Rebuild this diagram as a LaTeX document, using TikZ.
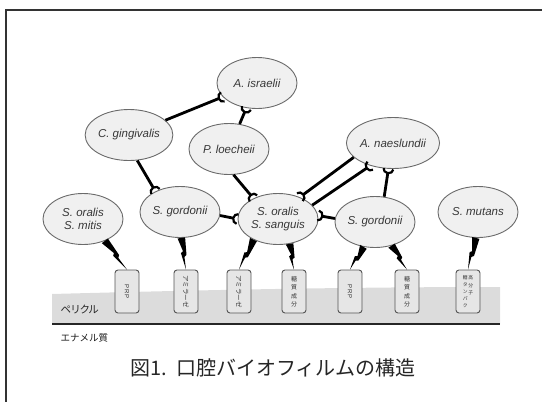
\documentclass[tikz,border=0pt]{standalone}
\usepackage{fontspec}
\usepackage{graphicx}
\setmainfont{Liberation Sans}
\newfontfamily\jp{Noto Sans CJK JP}
\newfontfamily\jpp[RawFeature=+palt]{Noto Sans CJK JP}
\usetikzlibrary{arrows.meta,calc,shapes.geometric}

\definecolor{cellfill}{HTML}{F0F0F0}
\definecolor{cellline}{HTML}{6A6A6A}
\definecolor{celltext}{HTML}{383838}
\definecolor{boxfill}{HTML}{E6E6E6}
\definecolor{boxline}{HTML}{555555}
\definecolor{boxtext}{HTML}{333333}
\definecolor{pellicle}{HTML}{DCDCDC}
\definecolor{framecol}{HTML}{333333}

% lightning-shaped adhesion from a cell to its receptor
\newcommand{\adhere}[2]{%
  \coordinate (bs) at (#1);
  \coordinate (be) at (#2);
  \fill[black]
    ($(bs)!3.8pt!90:(be)$) -- ($(bs)!3.8pt!-90:(be)$)
    -- ($($(bs)!.42!(be)$)!.3pt!-90:(be)$)
    -- ($($(bs)!.47!(be)$)!2.6pt!-90:(be)$)
    -- (be)
    -- ($($(bs)!.6!(be)$)!.3pt!90:(be)$)
    -- ($($(bs)!.55!(be)$)!2.6pt!90:(be)$)
    -- cycle;}

\begin{document}
\begin{tikzpicture}[x=1pt, y=-1pt,
    cell/.style={ellipse, draw=cellline, fill=cellfill, line width=0.9pt,
      minimum width=80pt, minimum height=51pt, inner sep=0pt, align=center,
      text=celltext, font=\fontsize{11.5}{13}\selectfont\itshape},
    receptor/.style={rectangle, rounded corners=3pt, draw=boxline, fill=boxfill,
      line width=0.9pt, minimum width=24pt, minimum height=43pt, inner sep=0pt,
      text=boxtext},
    bond/.style={line width=2.8pt,
      -{Arc Barb[reversed, length=5.5pt, width=12pt, line width=2.2pt]}}]
    \useasboundingbox (0,0) rectangle (542,402);
    \draw[framecol, line width=1.4pt] (6,402) -- (6,10) -- (542,10);

    % pellicle and enamel
    \fill[pellicle] (52,294) .. controls (200,290) and (350,287) .. (500,287)
      -- (500,324) -- (52,324) -- cycle;
    \draw[line width=1.5pt, black!85] (52,324) -- (500,324);
    \node[anchor=west, font=\jpp\fontsize{10.5}{11}\selectfont, text=black!85] (pell) at (57,309) {ペリクル};
    \node[anchor=west, font=\jp\fontsize{9.5}{10}\selectfont, text=black!90] (enamel) at (57,338) {エナメル質};
    \node[font=\jp\fontsize{20}{21}\selectfont, text=black!85] (title) at (273,368) {図1.\hspace{0.45em}口腔バイオフィルムの構造};

    % bacteria
    \node[cell] (aisr) at (257,83) {A. israelii};
    \node[cell] (cging) at (129,135) {C. gingivalis};
    \node[cell] (ploech) at (229,149) {P. loecheii};
    \node[cell] (anaes) at (393,143) {A. naeslundii};
    \node[cell] (mitis) at (83,219) {S. oralis\\S. mitis};
    \node[cell] (gordL) at (180,212) {S. gordonii};
    \node[cell] (sanguis) at (278,219) {S. oralis\\S. sanguis};
    \node[cell] (gordR) at (375,222) {S. gordonii};
    \node[cell] (mutans) at (478,212) {S. mutans};

    % receptors
    \node[receptor] (prpA) at (127,291.5) {\rotatebox{-90}{\fontsize{6}{6}\selectfont P\,R\,P}};
    \node[receptor] (amyA) at (186,291.5) {\rotatebox{-90}{\jp\fontsize{6.5}{6.5}\selectfont アミラーゼ}};
    \node[receptor] (amyB) at (239,291.5) {\rotatebox{-90}{\jp\fontsize{6.5}{6.5}\selectfont アミラーゼ}};
    \node[receptor] (sugA) at (294,291.5) {\jp\fontsize{6}{6}\selectfont\shortstack{糖\\質\\成\\分}};
    \node[receptor] (prpB) at (350,291.5) {\rotatebox{-90}{\fontsize{6}{6}\selectfont P\,R\,P}};
    \node[receptor] (sugB) at (407,291.5) {\jp\fontsize{6}{6}\selectfont\shortstack{糖\\質\\成\\分}};
    \node[receptor] (glyco) at (468,291.5) {\jp\fontsize{4.8}{4.8}\selectfont
      \raisebox{-13pt}{\shortstack{糖\\タ\\ン\\パ\\ク}}\hspace{0.6pt}\shortstack{高\\分\\子}};

    % coaggregation
    \draw[bond] (cging) -- (aisr);
    \draw[bond] (ploech) -- (aisr);
    \draw[bond] (cging.-72) -- (gordL.140);
    \draw[bond] (ploech.-80) -- (sanguis.140);
    \draw[bond] (gordL.-5) -- (sanguis.180);
    \draw[bond] (gordR.175) -- (sanguis.5);
    \draw[bond] (anaes.-160) -- (sanguis.45);
    \draw[bond] (sanguis.22) -- (anaes.-135);
    \draw[bond] (gordR.70) -- (anaes.-100);

    % adhesion to the pellicle
    \adhere{mitis.-45}{prpA.north}
    \adhere{gordL.-87}{amyA.north}
    \adhere{sanguis.-140}{amyB.north}
    \adhere{sanguis.-65}{sugA.north}
    \adhere{gordR.-115}{prpB.north}
    \adhere{gordR.-55}{sugB.north}
    \adhere{mutans.-95}{glyco.north}
\end{tikzpicture}
\end{document}
